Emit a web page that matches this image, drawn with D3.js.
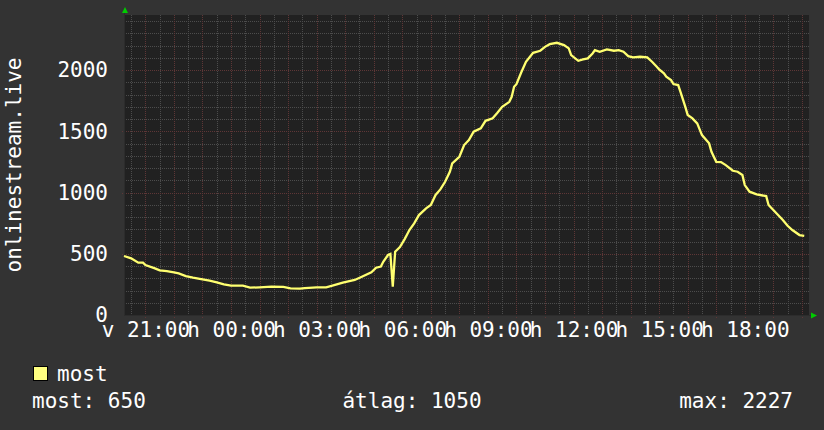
<!DOCTYPE html>
<html>
<head>
<meta charset="utf-8">
<script src="https://cdn.jsdelivr.net/npm/d3@7"></script>
<style>
    body { margin: 0; background: #333333; }
    svg { display: block; }
    text { font-family: "DejaVu Sans Mono", monospace; fill: #ffffff; }
</style>
</head>
<body>
<div id="chart"></div>
<script>
// minutes after the start of the window (vasárnap 20:15)
let minutes = [
    0, 15, 30, 40, 45, 65, 75, 90, 105, 115, 130, 145, 165, 180, 195, 210,
    225, 250, 265, 285, 310, 335, 350, 370, 380, 405, 425, 440, 460, 485,
    500, 520, 530, 540, 545, 555, 560, 565, 570, 580, 590, 600, 610, 620,
    635, 645, 655, 665, 675, 685, 690, 705, 715, 725, 735, 750, 760, 775,
    785, 795, 810, 815, 820, 825, 835, 845, 860, 875, 885, 895, 910, 925,
    935, 940, 955, 965, 975, 985, 990, 1000, 1015, 1030, 1040, 1050, 1060,
    1070, 1085, 1100, 1110, 1120, 1125, 1135, 1140, 1150, 1155, 1165, 1170,
    1180, 1185, 1195, 1205, 1215, 1230, 1235, 1245, 1255, 1265, 1280, 1290,
    1300, 1305, 1315, 1330, 1350, 1355, 1365, 1375, 1385, 1395, 1405, 1420,
    1430
];
let values = [
    482, 463, 427, 427, 408, 381, 365, 359, 348, 340, 318, 305, 291, 280, 267, 251,
    240, 240, 223, 226, 231, 229, 218, 215, 220, 226, 226, 242, 264, 286,
    313, 348, 386, 396, 435, 490, 498, 231, 517, 555, 620, 694, 748, 816,
    871, 898, 980, 1026, 1088, 1170, 1238, 1292, 1388, 1429, 1497, 1524, 1586, 1606,
    1651, 1700, 1741, 1782, 1864, 1885, 1980, 2068, 2141, 2158, 2190, 2212, 2223, 2204,
    2177, 2122, 2076, 2087, 2096, 2136, 2163, 2150, 2169, 2158, 2163, 2150, 2114,
    2104, 2109, 2104, 2068, 2027, 2005, 1973, 1946, 1918, 1886, 1878, 1820,
    1700, 1633, 1606, 1565, 1469, 1402, 1333, 1251, 1249, 1224, 1178, 1170,
    1143, 1061, 1007, 985, 971, 898, 857, 816, 776, 729, 694, 653,
    647
];
let yTicks = [0, 500, 1000, 1500, 2000];
let dayNames = ["v", "h", "k", "sze", "cs", "p", "szo"];
let seriesName = "most";
let statLabels = ["most: 650", "átlag: 1050", "max: 2227"];
let axisTitle = "onlinestream.live";
let windowStart = new Date(2024, 2, 3, 20, 15);
let windowEnd = new Date(2024, 2, 4, 20, 15);

RrdGraph = function(_parentElement, _minutes, _values) {
    this.parentElement = _parentElement;
    this.data = _minutes.map((m, i) => ({
        time: d3.timeMinute.offset(windowStart, m),
        value: _values[i]
    }));

    this.initVis();
}

RrdGraph.prototype.initVis = function() {
    let vis = this;

    vis.width = 824;
    vis.height = 430;
    vis.plot = { left: 124, right: 809, top: 15, bottom: 315 };

    vis.svg = d3.select("#" + vis.parentElement)
        .append("svg")
        .attr("width", vis.width)
        .attr("height", vis.height);

    vis.svg.append("rect")
        .attr("width", vis.width)
        .attr("height", vis.height)
        .attr("fill", "#333333");

    vis.x = d3.scaleTime()
        .domain([windowStart, windowEnd])
        .range([vis.plot.left, vis.plot.right]);

    vis.y = d3.scaleLinear()
        .domain([0, 2450])
        .range([vis.plot.bottom, vis.plot.top]);

    vis.svg.append("rect")
        .attr("x", vis.plot.left)
        .attr("y", vis.plot.top)
        .attr("width", vis.plot.right - vis.plot.left)
        .attr("height", vis.plot.bottom - vis.plot.top)
        .attr("fill", "#212121");

    vis.drawGrid();
    vis.drawAxes();
    vis.updateVis();
    vis.drawLegend();
}

RrdGraph.prototype.drawGrid = function() {
    let vis = this;

    let halfHours = d3.timeMinute.every(30).range(windowStart, windowEnd)
        .filter((d) => d.getMinutes() == 30);
    let hours = d3.timeHour.range(windowStart, windowEnd);
    let minorY = d3.range(100, 2450, 100).filter((v) => v % 500 != 0);
    let majorY = yTicks.filter((v) => v > 0);

    let grid = vis.svg.append("g").attr("class", "grid");

    grid.selectAll(".vminor")
        .data(halfHours)
        .enter()
        .append("line")
        .attr("x1", (d) => Math.round(vis.x(d)) + 0.5)
        .attr("x2", (d) => Math.round(vis.x(d)) + 0.5)
        .attr("y1", vis.plot.top)
        .attr("y2", vis.plot.bottom)
        .attr("stroke", "#4c4c4c")
        .attr("stroke-dasharray", "1,1");

    grid.selectAll(".hminor")
        .data(minorY)
        .enter()
        .append("line")
        .attr("x1", vis.plot.left)
        .attr("x2", vis.plot.right)
        .attr("y1", (d) => Math.round(vis.y(d)) + 0.5)
        .attr("y2", (d) => Math.round(vis.y(d)) + 0.5)
        .attr("stroke", "#4c4c4c")
        .attr("stroke-dasharray", "1,1");

    grid.selectAll(".vmajor")
        .data(hours)
        .enter()
        .append("line")
        .attr("x1", (d) => Math.round(vis.x(d)) + 0.5)
        .attr("x2", (d) => Math.round(vis.x(d)) + 0.5)
        .attr("y1", vis.plot.top)
        .attr("y2", vis.plot.bottom + 3)
        .attr("stroke", "#5e3636")
        .attr("stroke-dasharray", "1,1");

    grid.selectAll(".hmajor")
        .data(majorY)
        .enter()
        .append("line")
        .attr("x1", vis.plot.left - 2)
        .attr("x2", vis.plot.right)
        .attr("y1", (d) => Math.round(vis.y(d)) + 0.5)
        .attr("y2", (d) => Math.round(vis.y(d)) + 0.5)
        .attr("stroke", "#5e3636")
        .attr("stroke-dasharray", "1,1");
}

RrdGraph.prototype.drawAxes = function() {
    let vis = this;

    let fmt = (d) => dayNames[d.getDay()] + " " + d3.timeFormat("%H:%M")(d);

    let xAxis = d3.axisBottom(vis.x)
        .tickValues(d3.timeHour.every(3).range(windowStart, windowEnd))
        .tickFormat(fmt)
        .tickSize(0)
        .tickPadding(7);

    let gx = vis.svg.append("g")
        .attr("transform", "translate(0," + vis.plot.bottom + ")")
        .call(xAxis);
    gx.select(".domain").remove();
    gx.selectAll("text")
        .attr("font-size", 21)
        .attr("font-family", "DejaVu Sans Mono")
        .attr("fill", "#ffffff");

    let yAxis = d3.axisLeft(vis.y)
        .tickValues(yTicks)
        .tickFormat(d3.format("d"))
        .tickSize(0)
        .tickPadding(16);

    let gy = vis.svg.append("g")
        .attr("transform", "translate(" + vis.plot.left + ",0)")
        .call(yAxis);
    gy.select(".domain").remove();
    gy.selectAll("text")
        .attr("font-size", 21)
        .attr("font-family", "DejaVu Sans Mono")
        .attr("fill", "#ffffff");

    // axis lines and the green arrows
    vis.svg.append("line")
        .attr("x1", vis.plot.left + 0.5).attr("x2", vis.plot.left + 0.5)
        .attr("y1", vis.plot.top - 2).attr("y2", vis.plot.bottom)
        .attr("stroke", "#2c2c2c");
    vis.svg.append("line")
        .attr("x1", vis.plot.left).attr("x2", vis.plot.right + 2)
        .attr("y1", vis.plot.bottom + 0.5).attr("y2", vis.plot.bottom + 0.5)
        .attr("stroke", "#2c2c2c");

    vis.svg.append("path")
        .attr("d", "M" + (vis.plot.left - 2) + "," + (vis.plot.top - 2) +
            " L" + (vis.plot.left + 1) + "," + (vis.plot.top - 8) +
            " L" + (vis.plot.left + 4) + "," + (vis.plot.top - 2) + "Z")
        .attr("fill", "#00cc00");
    vis.svg.append("path")
        .attr("d", "M" + (vis.plot.right + 2) + "," + (vis.plot.bottom - 2.5) +
            " L" + (vis.plot.right + 8) + "," + (vis.plot.bottom + 0.5) +
            " L" + (vis.plot.right + 2) + "," + (vis.plot.bottom + 3.5) + "Z")
        .attr("fill", "#00cc00");

    vis.svg.append("text")
        .attr("transform", "translate(21," + ((vis.plot.top + vis.plot.bottom) / 2) + ") rotate(-90)")
        .attr("text-anchor", "middle")
        .attr("font-size", 21)
        .text(axisTitle);
}

RrdGraph.prototype.updateVis = function() {
    let vis = this;

    let line = d3.line()
        .x((d) => vis.x(d.time))
        .y((d) => vis.y(d.value));

    vis.svg.append("path")
        .datum(vis.data)
        .attr("d", line)
        .attr("fill", "none")
        .attr("stroke", "#ffff70")
        .attr("stroke-width", 2.3)
        .attr("stroke-linejoin", "miter");
}

RrdGraph.prototype.drawLegend = function() {
    let vis = this;

    vis.svg.append("rect")
        .attr("x", 33.5).attr("y", 366.5)
        .attr("width", 14).attr("height", 14)
        .attr("fill", "#ffff80")
        .attr("stroke", "#000000");

    vis.svg.append("text")
        .attr("x", 57).attr("y", 381)
        .attr("font-size", 21)
        .text(seriesName);

    vis.svg.selectAll(".stat")
        .data(statLabels)
        .enter()
        .append("text")
        .attr("class", "stat")
        .attr("x", (d, i) => [32, 412, 793][i])
        .attr("y", 408)
        .attr("text-anchor", (d, i) => ["start", "middle", "end"][i])
        .attr("font-size", 21)
        .text((d) => d);
}

new RrdGraph("chart", minutes, values);
</script>
</body>
</html>
